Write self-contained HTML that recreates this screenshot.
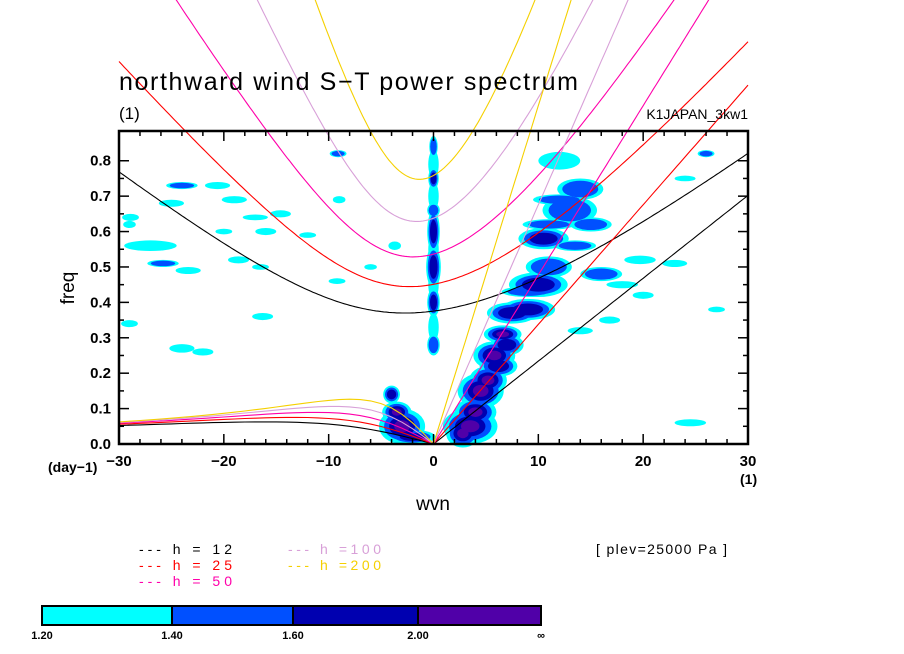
<!DOCTYPE html>
<html><head><meta charset="utf-8">
<style>
body{margin:0;background:#fff;}
svg{display:block;font-family:"Liberation Sans",sans-serif;}
</style></head>
<body>
<svg id="chart" width="904" height="654" viewBox="0 0 904 654" xmlns="http://www.w3.org/2000/svg">
<rect width="904" height="654" fill="#fff"/>
<g id="contours"></g>
<g id="curves"></g>
<g id="axes"></g>
<text x="119" y="90" font-size="25" textLength="459" lengthAdjust="spacing">northward wind S−T power spectrum</text>
<text x="119" y="119" font-size="17">(1)</text>
<text x="748" y="119" font-size="14" text-anchor="end">K1JAPAN_3kw1</text>
<text x="0" y="0" font-size="19" transform="translate(74,288) rotate(-90)" text-anchor="middle">freq</text>
<text x="433" y="510" font-size="19" text-anchor="middle">wvn</text>
<text x="48" y="472" font-size="14" font-weight="bold">(day−1)</text>
<text x="740" y="484" font-size="14" font-weight="bold">(1)</text>
<g font-size="14">
<text x="139" y="554" fill="#000" textLength="93">--- h = 12</text>
<text x="139" y="570" fill="#f00" textLength="93">--- h = 25</text>
<text x="139" y="586" fill="#f0a" textLength="93">--- h = 50</text>
<text x="288" y="554" fill="#d8a0d8" textLength="93">--- h =100</text>
<text x="288" y="570" fill="#f5d000" textLength="93">--- h =200</text>
</g>
<text x="596" y="554" font-size="14" textLength="131">[ plev=25000 Pa ]</text>
<g id="cbar"></g>
</svg>
<script>
const NS="http://www.w3.org/2000/svg";
function mk(p,tag,attrs){const e=document.createElementNS(NS,tag);for(const k in attrs)e.setAttribute(k,attrs[k]);p.appendChild(e);return e;}
const X0=119,X1=748,Y0=444,Y1=131,KMIN=-30,KMAX=30,FMAX=0.884;
const xs=k=>X0+(k-KMIN)/(KMAX-KMIN)*(X1-X0);
const ys=f=>Y0-f/FMAX*(Y0-Y1);
// data
const depths=[12,25,50,100,200];
const depthColors=["#000","#f00","#f0a","#d8a0d8","#f5d000"];
const xTickLabels=[-30,-20,-10,0,10,20,30];
const yTickLabels=[0,0.1,0.2,0.3,0.4,0.5,0.6,0.7,0.8];
const levels=[1.2,1.4,1.6,2.0];
const levelColors=["#00ffff","#0050ff","#0000b0","#5000a8"];
// blobs: wavenumber centre, freq centre, half-width (k), half-height (freq), max level index
const blobK=[3.5,4.5,5.8,6.6,7.5,9,10,10.5,11,13,14,12,15,16,0,0,0,0,0,0,0,-3,-4,-3.5,-28.9,-27,-25.8,-23.4,-18.6,-16.5,-16.3,-24,-22,-29,-24,-20.6,-19,-25,-17,-14.6,-29,-16,-20,-9.2,-9,-9.1,-3.7,24,26,24.5,19.7,23,16.8,14,20,-27,-12,-6,27,18,
  2.8,4,5.2,6.2,7,0,0,0,0,0,-2,9,11,12,13.5];
const blobF=[0.05,0.15,0.25,0.31,0.37,0.38,0.45,0.58,0.5,0.66,0.72,0.8,0.62,0.48,0.28,0.4,0.5,0.6,0.66,0.75,0.84,0.05,0.14,0.09,0.64,0.56,0.51,0.49,0.52,0.5,0.36,0.27,0.26,0.34,0.73,0.73,0.69,0.68,0.64,0.65,0.62,0.6,0.6,0.46,0.69,0.82,0.56,0.75,0.82,0.06,0.52,0.51,0.35,0.32,0.42,0.56,0.59,0.5,0.38,0.45,
  0.03,0.09,0.18,0.22,0.28,0.33,0.45,0.55,0.7,0.79,0.02,0.43,0.62,0.69,0.56];
const blobW=[2.6,2.2,2,1.8,2.4,2.6,2.8,2.4,2.2,2.6,2.2,2,2,2,0.6,0.6,0.7,0.6,0.6,0.5,0.4,2.2,0.8,1.4,0.8,2.5,1.5,1.2,1,0.8,1,1.2,1,0.8,1.5,1.2,1.2,1.2,1.2,1,0.6,1,0.8,0.8,0.6,0.8,0.6,1,0.8,1.5,1.5,1.2,1,1.2,1,1,0.8,0.6,0.8,1.5,
  1.6,2,1.8,1.8,1.6,0.5,0.5,0.5,0.5,0.5,2.2,2.5,2.5,2.5,2];
const blobH=[0.05,0.05,0.04,0.025,0.03,0.03,0.035,0.03,0.03,0.04,0.03,0.025,0.02,0.02,0.03,0.04,0.06,0.06,0.02,0.03,0.03,0.05,0.025,0.03,0.01,0.015,0.01,0.01,0.01,0.008,0.01,0.012,0.01,0.01,0.01,0.01,0.01,0.01,0.008,0.01,0.01,0.01,0.008,0.008,0.01,0.01,0.012,0.008,0.01,0.01,0.012,0.01,0.01,0.01,0.01,0.01,0.008,0.008,0.008,0.01,
  0.04,0.04,0.04,0.03,0.03,0.04,0.04,0.04,0.04,0.04,0.02,0.015,0.015,0.015,0.015];
const blobL=[3,3,3,3,2,2,2,2,1,1,1,0,1,1,1,2,2,2,1,2,1,3,2,3,0,0,1,0,0,0,0,0,0,0,1,0,0,0,0,0,0,0,0,0,0,1,0,0,1,0,0,0,0,0,0,0,0,0,0,0,
  3,3,3,2,2,0,0,0,0,0,2,1,1,1,1];
const cg=document.getElementById('contours');
for(let l=0;l<4;l++){
  for(let i=0;i<blobK.length;i++){
    if(blobL[i]<l)continue;
    const s=1-l*0.22;
    const e=mk(cg,'ellipse',{cx:xs(blobK[i]),cy:ys(blobF[i]),rx:blobW[i]*s*(X1-X0)/60,ry:blobH[i]*s*(Y0-Y1)/FMAX,fill:levelColors[l]});
    
    
  }
}
const a=6.371e6,beta=2.29e-11,g=9.8,toCpd=86400/(2*Math.PI);
function cubicRoot(kr,c,n,w0){let w=w0;for(let it=0;it<60;it++){const f=w*w*w-(kr*kr*c*c+(2*n+1)*beta*c)*w-kr*beta*c*c;const d=3*w*w-(kr*kr*c*c+(2*n+1)*beta*c);w-=f/d;}return w;}
const cv=document.getElementById('curves');
depths.forEach((h,i)=>{
  const c=Math.sqrt(g*h);
  let p1=[],pk=[],pr=[];
  for(let k=KMIN;k<=KMAX;k+=0.25){
    const kr=k/a;
    const w=cubicRoot(kr,c,1,Math.sqrt(3*beta*c+kr*kr*c*c)*1.2);
    p1.push(xs(k).toFixed(1)+','+ys(w*toCpd).toFixed(1));
    if(k>=0)pk.push(xs(k).toFixed(1)+','+ys(kr*c*toCpd).toFixed(1));
  }
  for(let k=KMIN;k<=0;k+=1){
    const kr=k/a;
    const w=k===0?0:-kr*beta/(kr*kr+3*beta/c);
    pr.push(xs(k).toFixed(1)+','+ys(w*toCpd).toFixed(1));
  }
  [[p1,'ig-curve-h'+h],[pk,'kelvin-line-h'+h],[pr,'rossby-curve-h'+h]].forEach(([p,nm])=>{
    const e=mk(cv,'polyline',{points:p.join(' '),fill:'none',stroke:depthColors[i],'stroke-width':1.1});
    
    
  });
});
const ax=document.getElementById('axes');
const fr=mk(ax,'rect',{x:X0,y:Y1,width:X1-X0,height:Y0-Y1,fill:'none',stroke:'#000','stroke-width':2.5});


for(let k=KMIN;k<=KMAX;k+=2){
  const major=k%10===0, L=major?10:5;
  mk(ax,'line',{x1:xs(k),x2:xs(k),y1:Y0,y2:Y0-L,stroke:'#000','stroke-width':1.5});
  mk(ax,'line',{x1:xs(k),x2:xs(k),y1:Y1,y2:Y1+L,stroke:'#000','stroke-width':1.5});
}
for(let f=0;f<=0.85;f+=0.05){
  const major=Math.round(f*100)%10===0, L=major?10:5;
  mk(ax,'line',{x1:X0,x2:X0+L,y1:ys(f),y2:ys(f),stroke:'#000','stroke-width':1.5});
  mk(ax,'line',{x1:X1,x2:X1-L,y1:ys(f),y2:ys(f),stroke:'#000','stroke-width':1.5});
}
xTickLabels.forEach(v=>{
  const t=mk(ax,'text',{x:xs(v),y:Y0+22,'font-size':15,'font-weight':'bold','text-anchor':'middle'});
  t.textContent=v<0?'−'+(-v):String(v);
  
  
});
yTickLabels.forEach(v=>{
  const t=mk(ax,'text',{x:X0-8,y:ys(v)+5,'font-size':15,'font-weight':'bold','text-anchor':'end'});
  t.textContent=v.toFixed(1);
  
  
});
const cb=document.getElementById('cbar');
const cbx=[42,172,293,418,541];
const cbLabels=["1.20","1.40","1.60","2.00","∞"];
levelColors.forEach((c,i)=>{
  const r=mk(cb,'rect',{x:cbx[i],y:606,width:cbx[i+1]-cbx[i],height:19,fill:c,stroke:'#000','stroke-width':2});
  
  
});
cbLabels.forEach((s,i)=>{
  const t=mk(cb,'text',{x:cbx[i],y:639,'font-size':11,'font-weight':'bold','text-anchor':'middle'});
  t.textContent=s;
  
  
});
</script>
</body></html>
